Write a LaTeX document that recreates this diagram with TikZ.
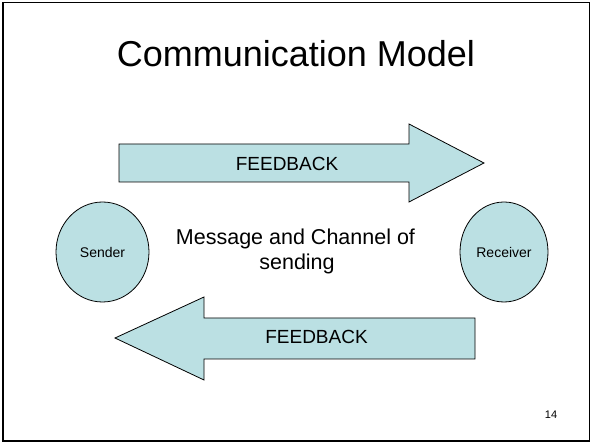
\documentclass[tikz,border=0pt]{standalone}
\usepackage{fontspec}
\setmainfont{Liberation Sans}
\usetikzlibrary{shapes.geometric}
\definecolor{fillblue}{HTML}{BBE0E3}
\tikzset{
  bigarrow/.style={draw=black, line width=0.8pt, fill=fillblue, line join=miter},
  party/.style={ellipse, draw=black, line width=0.8pt, fill=fillblue, inner sep=0pt},
  lbl/.style={inner sep=0pt, text=black},
}
\begin{document}
\begin{tikzpicture}[x=1pt,y=-1pt]
\useasboundingbox (0,0) rectangle (592,443);
\draw[line width=1.5pt] (3,2.5) rectangle (589.5,441);
% title
\node[lbl, anchor=base, font=\fontsize{36}{40}\selectfont] (title) at (296,67) {Communication Model};
% top arrow
\draw[bigarrow] (119,144) -- (409,144) -- (409,124) -- (484,163) -- (409,202) -- (409,182) -- (119,182) -- cycle;
\node[lbl, anchor=base, font=\fontsize{19}{22}\selectfont] (fb1) at (287,171) {FEEDBACK};
% bottom arrow
\draw[bigarrow] (475,318) -- (204,318) -- (204,297) -- (115,338) -- (204,380) -- (204,359) -- (475,359) -- cycle;
\node[lbl, anchor=base, font=\fontsize{19}{22}\selectfont] (fb2) at (316.5,344) {FEEDBACK};
% parties
\node[party, minimum width=93pt, minimum height=100pt, font=\fontsize{14}{16}\selectfont] (sender) at (102.5,252) {Sender};
\node[party, minimum width=88pt, minimum height=100pt, font=\fontsize{14}{16}\selectfont] (receiver) at (504,252) {Receiver};
% message
\node[lbl, anchor=base, font=\fontsize{21.5}{25}\selectfont] (msg1) at (295.5,245) {Message and Channel of};
\node[lbl, anchor=base, font=\fontsize{21.5}{25}\selectfont] (msg2) at (297,270) {sending};
% page number
\node[lbl, anchor=base, font=\fontsize{11}{13}\selectfont] (num) at (551,419) {14};
\end{tikzpicture}
\end{document}
